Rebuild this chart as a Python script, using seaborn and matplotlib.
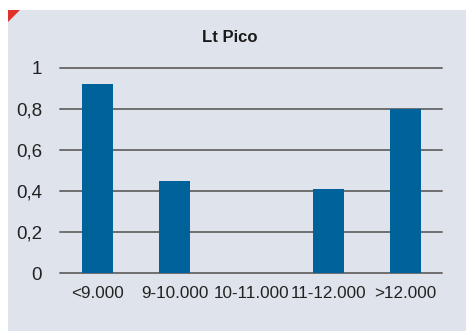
import matplotlib
matplotlib.use("Agg")
import matplotlib.pyplot as plt
import matplotlib.patches as mpatches
from matplotlib import font_manager
import seaborn as sns
import pandas as pd

categories = ["<9.000", "9-10.000", "10-11.000", "11-12.000", ">12.000"]
values = [0.92, 0.45, 0.0, 0.41, 0.80]
yticks = [0, 0.2, 0.4, 0.6, 0.8, 1.0]
ytick_labels = ["0", "0,2", "0,4", "0,6", "0,8", "1"]
title = "Lt Pico"

sns.set_style("white")
names = {f.name for f in font_manager.fontManager.ttflist}
fam = "Liberation Sans Narrow" if "Liberation Sans Narrow" in names else "Liberation Sans"
plt.rcParams["font.family"] = [fam, "DejaVu Sans"]

W, H = 466, 331
fig = plt.figure(figsize=(W / 100, H / 100), dpi=100, facecolor="white")
bg = "#dfe4ec"
fig.patches.append(mpatches.Rectangle((8 / W, 0), 1 - 8 / W, 1 - 10 / H,
                                      transform=fig.transFigure, facecolor=bg,
                                      edgecolor="none", zorder=-5))
fig.patches.append(mpatches.Polygon([(8 / W, 1 - 10 / H), (20 / W, 1 - 10 / H), (8 / W, 1 - 22 / H)],
                                    closed=True, transform=fig.transFigure,
                                    facecolor="#e0302a", edgecolor="none", zorder=-4))

ax = fig.add_axes([60 / W, 1 - 273 / H, (442 - 60) / W, (273 - 68) / H])
ax.set_facecolor("none")
ax.patch.set_alpha(0)
df = pd.DataFrame({"cat": categories, "val": values})
sns.barplot(data=df, x="cat", y="val", ax=ax, color="#00629b", width=0.4,
            saturation=1, zorder=3, edgecolor="none", linewidth=0)
ax.set_xlim(-0.487, 4.474)
ax.set_ylim(0, 1)
ax.set_yticks(yticks)
ax.set_yticklabels(ytick_labels)
for y in yticks:
    ax.axhline(y, color="#6e6e6e", lw=1.4, zorder=2, clip_on=False)
for s in ax.spines.values():
    s.set_visible(False)
ax.tick_params(axis="both", length=0, colors="#222222")
ax.tick_params(axis="y", pad=13, labelsize=13.5)
ax.tick_params(axis="x", pad=9, labelsize=12.3)
ax.set_xlabel("")
ax.set_ylabel("")
fig.text(230 / W, 1 - 38 / H, title, ha="center", va="center",
         fontsize=12, fontweight="bold", color="#1a1a1a")

fig.savefig("out.png", dpi=100, facecolor="white")
